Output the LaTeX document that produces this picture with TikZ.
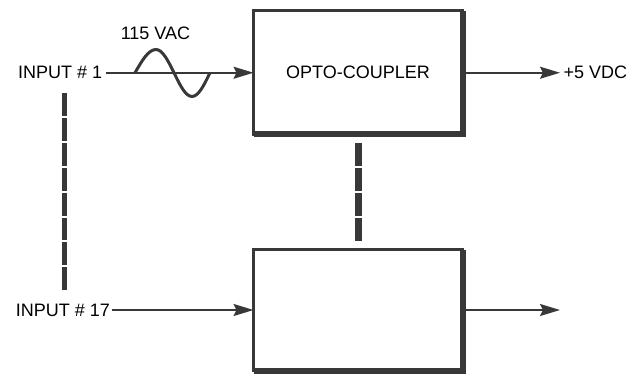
\documentclass[tikz,border=0pt]{standalone}
\usepackage{fontspec}
\setmainfont{Liberation Sans}
\usetikzlibrary{arrows.meta}

\colorlet{ink}{black!78}
\tikzset{
  block/.style={draw=ink,line width=3pt,outer sep=0pt,inner sep=0pt},
  heavyedge/.style={draw=ink,line width=6pt},
  wire/.style={draw=ink,line width=2pt,-{Stealth[length=20pt,width=12pt,inset=3pt]}},
  linkdash/.style={draw=ink,dash pattern=on 22.9pt off 2pt},
}

\begin{document}
\begin{tikzpicture}[x=1pt,y=-1pt,font=\fontsize{18}{21}\selectfont]
        \useasboundingbox (0,0) rectangle (634,374);

        \begin{scope}[every node/.style={block}]
          \node[minimum width=209pt,minimum height=123.5pt] (opto)  at (358,72.75) {OPTO-COUPLER};
          \node[minimum width=209pt,minimum height=121pt]   (box17) at (358,310)   {};
        \end{scope}

        \draw[heavyedge] (opto.north east)  -- (opto.south east)  -- (opto.south west);
        \draw[heavyedge] (box17.north east) -- (box17.south east) -- (box17.south west);

        \node[anchor=east] (in1)  at (105.7,72.75) {INPUT \# 1};
        \node[anchor=east,inner sep=1.5pt] (in17) at (111.5,310) {INPUT \# 17};
        \node[anchor=west] (vdc)  at (560,72.75) {+5 VDC};
        \node (vac) at (155.5,33) {115 VAC};
        \coordinate (out17) at (560,310);
        \coordinate (chaintop) at (64,93);
        \coordinate (chainbot) at (64,290);

        \path (in1.east)   edge[wire] (opto.west);
        \path (in17.east)  edge[wire] (box17.west);
        \path (opto.east)  edge[wire] (vdc.west);
        \path (box17.east) edge[wire] (out17);

        % ac waveform
        \draw[ink,line width=3pt] (135,72.75) sin (156,49.5) cos (174,72.75) sin (192,96.5) cos (210,72.75);

        \draw[linkdash,line width=5pt] (chaintop) -- (chainbot);
        \draw[linkdash,line width=7pt] ([yshift=-8.5pt]opto.south) -- ([yshift=8.9pt]box17.north);

      \end{tikzpicture}
\end{document}
